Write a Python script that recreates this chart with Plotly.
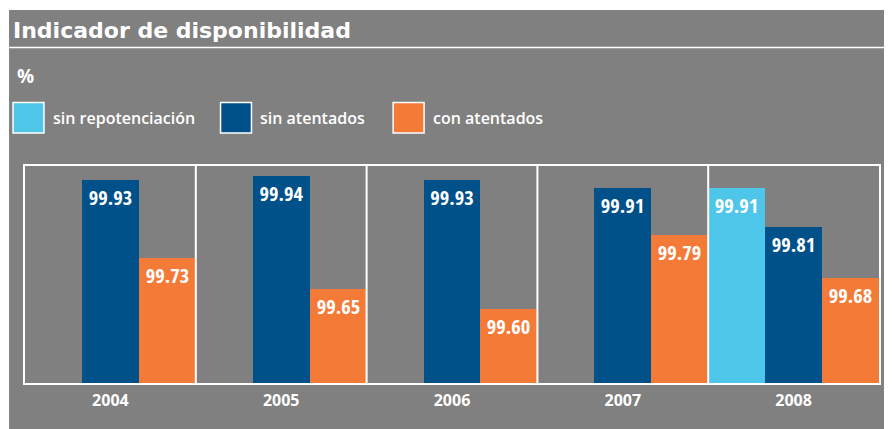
import plotly.graph_objects as go

years = ["2004", "2005", "2006", "2007", "2008"]
series_names = ["sin repotenciación", "sin atentados", "con atentados"]
sin_repotenciacion = [None, None, None, None, 99.91]
sin_atentados = [99.93, 99.94, 99.93, 99.91, 99.81]
con_atentados = [99.73, 99.65, 99.60, 99.79, 99.68]
colors = ["#4dc6ea", "#00508a", "#f47a38"]
title_text = "Indicador de disponibilidad"
unit_text = "%"

# page body has an 8px margin; figure origin sits at page (8, 8)
OFF = 8
W, H = 884, 421
ML, MR, MT, MB = 17, 11, 158, 46
PW, PH = W - ML - MR, H - MT - MB


def px_x(x):  # page pixel -> paper
    return (x - OFF - ML) / PW


def px_y(y):
    return (H - MB - (y - OFF)) / PH


BG = "#808080"
label_font = dict(family="Open Sans Condensed, Roboto Condensed, Liberation Sans Narrow, Noto Sans Condensed, DejaVu Sans Condensed, sans-serif",
                  size=20.5, color="white", weight="bold")

fig = go.Figure()
for name, vals, col in zip(series_names, [sin_repotenciacion, sin_atentados, con_atentados], colors):
    fig.add_trace(go.Bar(
        x=years, y=vals, name=name, marker=dict(color=col, line=dict(width=0)),
        text=[f"{v:.2f}" if v is not None else "" for v in vals],
        textposition="inside", insidetextanchor="end", textangle=0,
        textfont=label_font, cliponaxis=True, showlegend=False,
    ))

shapes = []
shapes.append(dict(type="rect", xref="paper", yref="paper", x0=px_x(9), x1=px_x(900),
                   y0=px_y(10), y1=px_y(440), fillcolor=BG, line=dict(width=0), layer="below"))
shapes.append(dict(type="line", xref="paper", yref="paper", x0=px_x(9), x1=px_x(900),
                   y0=px_y(47.5), y1=px_y(47.5), line=dict(color="white", width=1.5)))
for i in range(len(years) - 1):
    shapes.append(dict(type="line", xref="x", yref="paper", x0=i + 0.5, x1=i + 0.5, y0=0, y1=1,
                       line=dict(color="white", width=2)))

annotations = []
annotations.append(dict(text=title_text, xref="paper", yref="paper", x=px_x(11), y=px_y(30),
                        xanchor="left", yanchor="middle", showarrow=False,
                        font=dict(family="DejaVu Sans, sans-serif", size=22,
                                  color="white", weight="bold")))
annotations.append(dict(text=unit_text, xref="paper", yref="paper", x=px_x(15), y=px_y(76),
                        xanchor="left", yanchor="middle", showarrow=False,
                        font=dict(family="Open Sans, DejaVu Sans, sans-serif", size=19,
                                  color="white", weight="bold")))

legend_x = [13, 221, 394]
for lx, name, col in zip(legend_x, series_names, colors):
    shapes.append(dict(type="rect", xref="paper", yref="paper", x0=px_x(lx), x1=px_x(lx + 31),
                       y0=px_y(102.5), y1=px_y(133), fillcolor=col,
                       line=dict(color="white", width=1.5)))
    annotations.append(dict(text=name, xref="paper", yref="paper", x=px_x(lx + 38), y=px_y(118),
                            xanchor="left", yanchor="middle", showarrow=False,
                            font=dict(family="Open Sans, DejaVu Sans, sans-serif", size=16,
                                      color="white", weight=600)))

fig.update_layout(
    width=W, height=H,
    margin=dict(l=ML, r=MR, t=MT, b=MB, pad=0),
    paper_bgcolor="white", plot_bgcolor=BG,
    barmode="group", bargap=0, bargroupgap=0,
    shapes=shapes, annotations=annotations,
)
fig.update_xaxes(showline=True, mirror=True, linecolor="white", linewidth=2, showgrid=False,
                 ticks="", tickfont=dict(family="Open Sans, DejaVu Sans, sans-serif", size=16,
                                         color="white", weight="bold"), ticklabelstandoff=2)
fig.update_yaxes(range=[99.411, 99.965], showline=True, mirror=True, linecolor="white", linewidth=2,
                 showgrid=False, zeroline=False, showticklabels=False, ticks="")

fig.write_html("out.html")
